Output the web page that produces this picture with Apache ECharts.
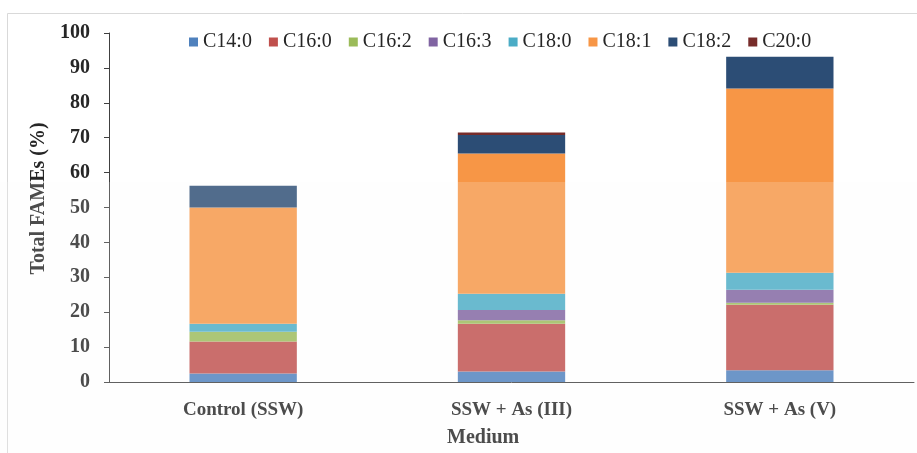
<!DOCTYPE html>
<html>
<head>
<meta charset="utf-8">
<style>
  html, body { margin: 0; padding: 0; background: #ffffff; }
  #chart { width: 917px; height: 453px; }
</style>
<script src="https://cdn.jsdelivr.net/npm/echarts@6/dist/echarts.min.js"></script>
</head>
<body>
<div id="chart"></div>
<script>
// Growth media on the category axis
const categories = ['Control (SSW)', 'SSW + As (III)', 'SSW + As (V)'];

// Fatty acid methyl ester composition (% of total FAMEs) per medium
const c14_0 = [2.4, 3.0, 3.4];
const c16_0 = [9.2, 13.7, 18.7];
const c16_2 = [2.8, 1.0, 0.6];
const c16_3 = [0, 2.9, 3.7];
const c18_0 = [2.3, 4.7, 4.9];
const c18_1 = [33.3, 40.2, 52.8];
const c18_2 = [6.2, 5.3, 9.1];
const c20_0 = [0, 0.7, 0];

const yTicks = [0, 10, 20, 30, 40, 50, 60, 70, 80, 90, 100];

const seriesDefs = [
  { name: 'C14:0', data: c14_0, color: '#4F81BD' },
  { name: 'C16:0', data: c16_0, color: '#C0504D' },
  { name: 'C16:2', data: c16_2, color: '#9BBB59' },
  { name: 'C16:3', data: c16_3, color: '#8064A2' },
  { name: 'C18:0', data: c18_0, color: '#4BACC6' },
  { name: 'C18:1', data: c18_1, color: '#F79646' },
  { name: 'C18:2', data: c18_2, color: '#2C4D75' },
  { name: 'C20:0', data: c20_0, color: '#772C2A' }
];

const serif = 'Liberation Serif';
const chart = echarts.init(document.getElementById('chart'));

chart.setOption({
  animation: false,
  backgroundColor: '#ffffff',
  textStyle: { fontFamily: serif },
  grid: { left: 109, right: 3, top: 33, bottom: 71, containLabel: false },
  legend: {
    left: 184,
    top: 27,
    itemWidth: 9,
    itemHeight: 9,
    itemGap: 17,
    icon: 'rect',
    textStyle: { fontFamily: serif, fontSize: 20, color: '#262626' },
    data: seriesDefs.map(s => s.name)
  },
  xAxis: {
    type: 'category',
    data: categories,
    axisTick: { show: false },
    axisLine: { lineStyle: { color: '#404040', width: 1 } },
    axisLabel: {
      fontFamily: serif, fontSize: 19, fontWeight: 'bold', color: '#262626', margin: 19
    }
  },
  yAxis: {
    type: 'value',
    min: yTicks[0],
    max: yTicks[yTicks.length - 1],
    interval: 10,
    name: 'Total FAMEs (%)',
    nameLocation: 'middle',
    nameGap: 51,
    nameRotate: 90,
    nameTextStyle: { fontFamily: serif, fontSize: 20, fontWeight: 'bold', color: '#262626', padding: [0, 0, 0, 18] },
    splitLine: { show: false },
    axisLine: { show: true, lineStyle: { color: '#404040', width: 1 } },
    axisTick: { show: true, inside: false, length: 5, lineStyle: { color: '#404040' } },
    axisLabel: {
      fontFamily: serif, fontSize: 20, fontWeight: 'bold', color: '#262626', margin: 19
    }
  },
  series: seriesDefs.map(s => ({
    name: s.name,
    type: 'bar',
    stack: 'fames',
    barWidth: '40%',
    data: s.data,
    itemStyle: { color: s.color },
    emphasis: { disabled: true }
  })),
  graphic: [
    // outer chart frame
    {
      type: 'rect', z: 0, silent: true,
      shape: { x: 7.5, y: 13.5, width: 1000, height: 1000 },
      style: { fill: 'none', stroke: '#d9d9d9', lineWidth: 1 }
    },
    // faint light veil over the lower part of the figure
    {
      type: 'rect', z: 100, silent: true,
      shape: { x: 0, y: 182, width: 917, height: 271 },
      style: { fill: 'rgba(252,252,252,0.18)' }
    },
    // x-axis title
    {
      type: 'text', z: 50, silent: true,
      left: 447, top: 428,
      style: { text: 'Medium', font: 'bold 20px "Liberation Serif"', fill: '#262626' }
    }
  ]
});
</script>
</body>
</html>
